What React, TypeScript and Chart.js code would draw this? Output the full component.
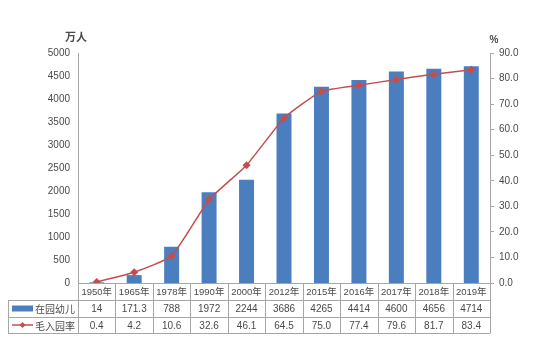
import React, { useEffect, useRef } from "react";
import { Chart, registerables } from "chart.js";

Chart.register(...registerables);

const categories = ["1950年", "1965年", "1978年", "1990年", "2000年", "2012年", "2015年", "2016年", "2017年", "2018年", "2019年"];
const enrolled = [14, 171.3, 788, 1972, 2244, 3686, 4265, 4414, 4600, 4656, 4714];
const enrolledLabels = ["14", "171.3", "788", "1972", "2244", "3686", "4265", "4414", "4600", "4656", "4714"];
const grossRate = [0.4, 4.2, 10.6, 32.6, 46.1, 64.5, 75.0, 77.4, 79.6, 81.7, 83.4];
const seriesNames = ["在园幼儿", "毛入园率"];
const leftUnit = "万人";
const rightUnit = "%";

const BLUE = "#4A7EBF";
const RED = "#C24F4E";
const GRID = "#A6A6A6";
const TEXT = "#4A4A4A";
const FONT = "'Liberation Sans', 'Noto Sans CJK SC', sans-serif";
const CJK = "'Noto Sans CJK SC', sans-serif";

const tablePlugin = {
  id: "dataTable",
  afterDraw(chart: any) {
    const ctx = chart.ctx;
    const x = chart.scales.x;
    const area = chart.chartArea;
    const n = categories.length;
    const step = (area.right - area.left) / n;
    const y0 = area.bottom;
    const y1 = y0 + 17;
    const y2 = y1 + 17;
    const y3 = y2 + 16;
    const legL = 8;
    ctx.save();
    ctx.strokeStyle = GRID;
    ctx.lineWidth = 1;
    ctx.beginPath();
    ctx.moveTo(area.left, y0 + 0.5); ctx.lineTo(area.right, y0 + 0.5);
    [y1, y2, y3].forEach((yy) => { ctx.moveTo(legL, yy + 0.5); ctx.lineTo(area.right, yy + 0.5); });
    for (let i = 0; i <= n; i++) {
      const xx = Math.round(area.left + i * step) + 0.5;
      ctx.moveTo(xx, y0); ctx.lineTo(xx, y3 + 0.5);
    }
    ctx.moveTo(legL + 0.5, y1); ctx.lineTo(legL + 0.5, y3 + 0.5);
    ctx.stroke();

    ctx.fillStyle = TEXT;
    ctx.textAlign = "center";
    ctx.textBaseline = "middle";
    for (let i = 0; i < n; i++) {
      const cx = x.getPixelForValue(i);
      ctx.font = `9.5px ${FONT}`;
      ctx.fillText(categories[i], cx, (y0 + y1) / 2 + 1);
      ctx.font = `10px ${FONT}`;
      ctx.fillText(enrolledLabels[i], cx, (y1 + y2) / 2 + 1);
      ctx.fillText(grossRate[i].toFixed(1), cx, (y2 + y3) / 2 + 1);
    }
    ctx.font = `10px ${CJK}`;
    ctx.textAlign = "left";
    ctx.fillStyle = BLUE;
    ctx.fillRect(12, (y1 + y2) / 2 - 3, 21, 6);
    ctx.fillStyle = TEXT;
    ctx.fillText(seriesNames[0], 35, (y1 + y2) / 2 + 1);
    const my = (y2 + y3) / 2;
    ctx.strokeStyle = RED;
    ctx.lineWidth = 1.5;
    ctx.beginPath(); ctx.moveTo(12, my); ctx.lineTo(33, my); ctx.stroke();
    ctx.fillStyle = RED;
    ctx.beginPath();
    ctx.moveTo(22.5, my - 3); ctx.lineTo(25.5, my); ctx.lineTo(22.5, my + 3); ctx.lineTo(19.5, my);
    ctx.closePath(); ctx.fill();
    ctx.fillStyle = TEXT;
    ctx.fillText(seriesNames[1], 35, my + 1);

    ctx.font = `bold 11px ${CJK}`;
    ctx.textAlign = "center";
    ctx.fillText(leftUnit, 76, 37);
    ctx.font = `bold 10px ${FONT}`;
    ctx.fillText(rightUnit, 494, 40);
    ctx.restore();
  },
};

export default function App() {
  const ref = useRef<HTMLCanvasElement>(null);
  useEffect(() => {
    document.body.style.margin = "0";
    const chart = new Chart(ref.current!, {
      type: "bar",
      data: {
        labels: categories,
        datasets: [
          {
            type: "line",
            label: seriesNames[1],
            data: grossRate,
            yAxisID: "y1",
            borderColor: RED,
            backgroundColor: RED,
            borderWidth: 1.5,
            pointRadius: 3,
            pointStyle: "rectRot",
            tension: 0.15,
            order: 0,
          } as any,
          {
            type: "bar",
            label: seriesNames[0],
            data: enrolled,
            yAxisID: "y",
            backgroundColor: BLUE,
            categoryPercentage: 1,
            barPercentage: 0.4,
            order: 1,
          },
        ],
      },
      options: {
        animation: false,
        responsive: false,
        maintainAspectRatio: false,
        layout: { padding: { left: 8, right: 0, top: 53, bottom: 66 } },
        plugins: { legend: { display: false }, tooltip: { enabled: false } },
        scales: {
          x: { display: false },
          y: {
            position: "left",
            min: 0,
            max: 5000,
            ticks: { stepSize: 500, color: TEXT, font: { size: 10, family: FONT }, padding: 8, callback: (v: any) => String(v) },
            grid: { display: false, drawTicks: false },
            border: { display: true, color: GRID },
            afterFit: (s: any) => { s.width = 70; },
          },
          y1: {
            position: "right",
            min: 0,
            max: 90,
            ticks: { stepSize: 10, color: TEXT, font: { size: 10, family: FONT }, padding: 5, callback: (v: any) => Number(v).toFixed(1) },
            grid: { drawOnChartArea: false, drawTicks: true, tickLength: 4, color: GRID },
            border: { display: true, color: GRID },
            afterFit: (s: any) => { s.width = 60; },
          },
        },
      },
      plugins: [tablePlugin],
    });
    return () => chart.destroy();
  }, []);
  return (
    <div style={{ width: 550, height: 349, background: "#fff" }}>
      <canvas ref={ref} width={550} height={349} style={{ display: "block" }} />
    </div>
  );
}
